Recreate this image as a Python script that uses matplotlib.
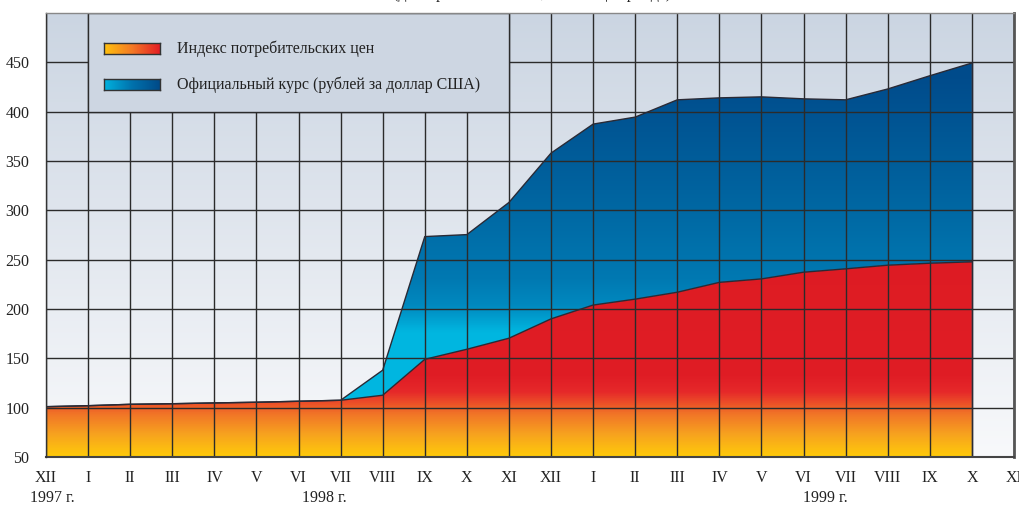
import numpy as np
import matplotlib
matplotlib.use('Agg')
import matplotlib.pyplot as plt
from matplotlib.colors import LinearSegmentedColormap
from matplotlib.patches import Rectangle

plt.rcParams['font.family'] = ['Liberation Serif', 'DejaVu Serif']

# месяцы с декабря 1997 по ноябрь 1999
months = ['XII', 'I', 'II', 'III', 'IV', 'V', 'VI', 'VII', 'VIII', 'IX', 'X', 'XI',
          'XII', 'I', 'II', 'III', 'IV', 'V', 'VI', 'VII', 'VIII', 'IX', 'X', 'XI']
years = ['1997 г.', '1998 г.', '1999 г.']
year_pos = [0.15, 6.6, 18.5]

# индекс потребительских цен (XII.1997 - X.1999)
cpi = [101, 102, 103.4, 104, 104.8, 105.5, 106.5, 107.5, 112.6, 149, 159.2, 170.4,
       190, 204, 210, 217, 227, 230.5, 237.3, 240.7, 244.4, 246.4, 247.8]
# официальный курс
rate = [101, 102, 103.4, 104, 104.8, 105.5, 106.5, 107.5, 138, 273.4, 275.4, 308,
        358, 387.4, 394.5, 412, 414, 415, 413, 412, 423, 436.4, 449.3]
yticks = [50, 100, 150, 200, 250, 300, 350, 400, 450]
legend_labels = ['Индекс потребительских цен', 'Официальный курс (рублей за доллар США)']

x = np.arange(len(cpi))

fig = plt.figure(figsize=(10.19, 5.07), dpi=100)
ax = fig.add_axes([46/1019, 50/507, 968/1019, 444/507])
ax.set_xlim(0, 23)
ax.set_ylim(50, 500)

bg_cmap = LinearSegmentedColormap.from_list('bg', ['#f8f9fb', '#cbd5e2'])
red_cmap = LinearSegmentedColormap.from_list('red', [
    (0.0, '#ffca0a'), (0.05, '#f7a21f'), (0.095, '#f17527'), (0.12, '#ec4f28'),
    (0.145, '#e6292a'), (0.18, '#e01d25'), (1.0, '#d81920')])
blue_cmap = LinearSegmentedColormap.from_list('blue', [
    (0.0, '#00b8e2'), (0.28, '#00b6e0'), (0.34, '#0089bf'), (0.4, '#0079b2'),
    (0.6, '#00639f'), (0.85, '#004c8c'), (1.0, '#004a88')])

grad = np.linspace(0, 1, 256).reshape(-1, 1)
ax.imshow(grad, cmap=bg_cmap, extent=[0, 23, 50, 500], origin='lower',
          aspect='auto', zorder=0)

blue_poly = ax.fill_between(x, cpi, rate, color='none', lw=0, zorder=1)
img_b = ax.imshow(grad, cmap=blue_cmap, extent=[0, 23, 50, 500], origin='lower',
                  aspect='auto', zorder=1)
img_b.set_clip_path(blue_poly.get_paths()[0], transform=ax.transData)

red_poly = ax.fill_between(x, 50, cpi, color='none', lw=0, zorder=1)
img_r = ax.imshow(grad, cmap=red_cmap, extent=[0, 23, 50, 500], origin='lower',
                  aspect='auto', zorder=1)
img_r.set_clip_path(red_poly.get_paths()[0], transform=ax.transData)

for xi in range(24):
    ax.axvline(xi, color='#2b2b2b', lw=1, zorder=2)
for yv in yticks:
    ax.axhline(yv, color='#2b2b2b', lw=1, zorder=2)

ax.plot(x, rate, color='#2a2a35', lw=1, zorder=3)
ax.plot(x, cpi, color='#2a2a35', lw=1, zorder=3)
ax.plot([22, 22], [50, rate[-1]], color='#2a2a35', lw=1, zorder=3)

# поле легенды
ax.add_patch(Rectangle((1, 400), 10, 100, facecolor='#cdd6e2', edgecolor='#2b2b2b',
                       lw=1, zorder=4))
hgrad = np.linspace(0, 1, 256).reshape(1, -1)
swatch_maps = [LinearSegmentedColormap.from_list('s1', ['#ffc20e', '#f47a25', '#e41e26']),
               LinearSegmentedColormap.from_list('s2', ['#00b2df', '#0072ad', '#004a88'])]
for i, lab in enumerate(legend_labels):
    sax = fig.add_axes([104/1019, 1 - (54 + 36*i)/507, 56/1019, 11/507], zorder=5)
    sax.imshow(hgrad, cmap=swatch_maps[i], aspect='auto')
    sax.set_xticks([])
    sax.set_yticks([])
    for s in sax.spines.values():
        s.set_color('#333333')
        s.set_linewidth(1)
    fig.text(177/1019, 1 - (49 + 36*i)/507, lab, fontsize=11.5, va='center',
             ha='left', color='#222222', zorder=6)

for s in ax.spines.values():
    s.set_visible(False)
ax.plot([23, 23], [50, 500], color='#555555', lw=2, zorder=5, clip_on=False)
ax.plot([0, 23], [50, 50], color='#444444', lw=1.5, zorder=5, clip_on=False)
ax.plot([0, 0], [50, 500], color='#333333', lw=1, zorder=5, clip_on=False)
ax.plot([0, 23], [500, 500], color='#888888', lw=1, zorder=5, clip_on=False)

ax.set_xticks(range(24))
ax.set_xticklabels(months, fontsize=11.5)
ax.set_yticks(yticks)
ax.set_yticklabels([str(v) for v in yticks], fontsize=11.5)
ax.tick_params(length=0, pad=9, colors='#222222')
ax.tick_params(axis='y', pad=12)

for yp, lab in zip(year_pos, years):
    fig.text((46 + yp*42.1)/1019, 9/507, lab, ha='center',
             va='center', fontsize=11.5, color='#222222')

fig.text(532/1019, 1.012, '(декабрь 1997 г. = 100, на конец периода)', ha='center',
         va='center', fontsize=11.5, color='#222222')

fig.savefig('out.png', dpi=100)
